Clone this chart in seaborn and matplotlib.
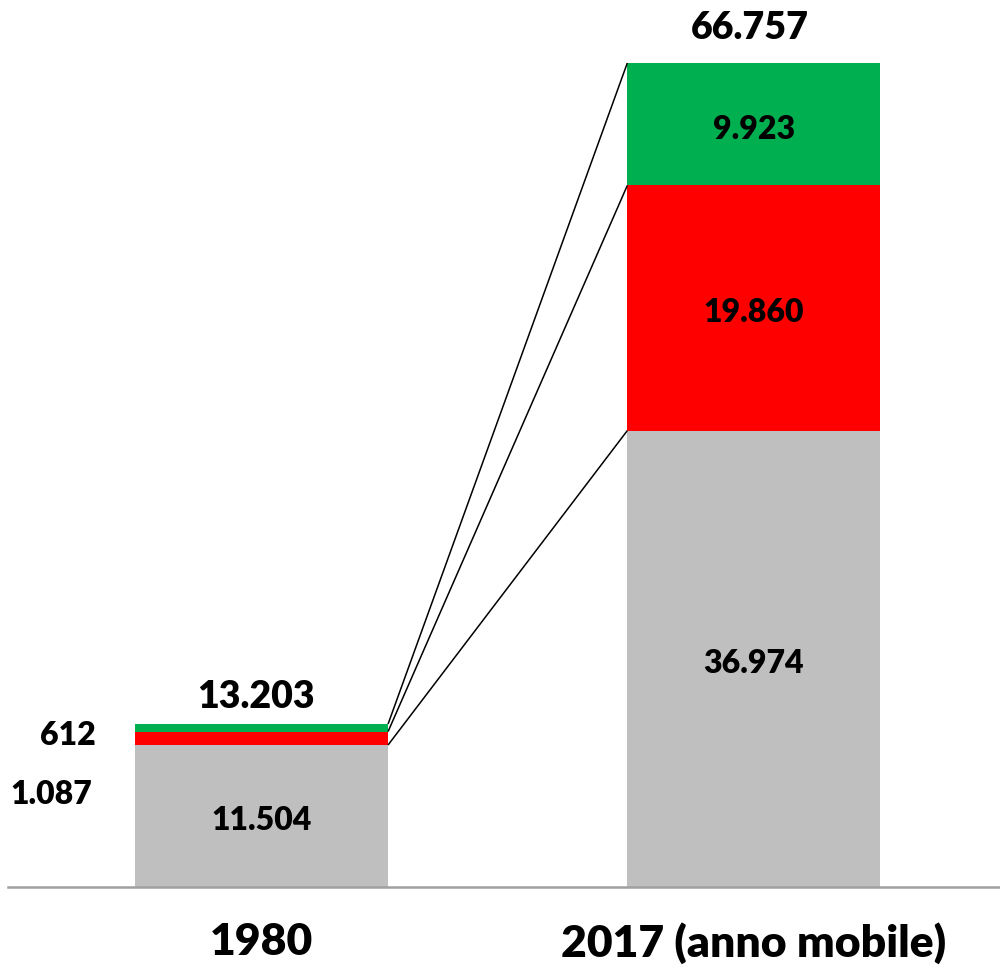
import seaborn as sns
import matplotlib.pyplot as plt

# data (values in thousands, italian format)
categories = ["1980", "2017 (anno mobile)"]
grey_vals = [11504, 36974]
red_vals = [1087, 19860]
green_vals = [612, 9923]
totals = [13203, 66757]

GREY = "#BFBFBF"
RED = "#FF0000"
GREEN = "#00B050"


def fmt(v):
    return f"{v:,}".replace(",", ".")


sns.set_style("white")
plt.rcParams["font.family"] = ["Lato", "DejaVu Sans"]
plt.rcParams["font.weight"] = "bold"
plt.rcParams["text.color"] = "black"
plt.rcParams["xtick.color"] = "black"

fig = plt.figure(figsize=(10, 9.8), dpi=100)
ax = fig.add_axes([0.008, 0.0949, 0.992, 0.8643])

bar_w = 0.514
cum_red = [g + r for g, r in zip(grey_vals, red_vals)]
cum_green = [c + gr for c, gr in zip(cum_red, green_vals)]

# stacked bars: draw the tallest first, then cover with lower stacks
sns.barplot(x=categories, y=cum_green, color=GREEN, saturation=1, width=bar_w, linewidth=0, ax=ax)
sns.barplot(x=categories, y=cum_red, color=RED, saturation=1, width=bar_w, linewidth=0, ax=ax)
sns.barplot(x=categories, y=grey_vals, color=GREY, saturation=1, width=bar_w, linewidth=0, ax=ax)

# connector lines between the segment tops
x_left = 0 + bar_w / 2
x_right = 1 - bar_w / 2
for level in (grey_vals, cum_red, cum_green):
    ax.plot([x_left, x_right], [level[0], level[1]], color="black", lw=1.1,
            solid_capstyle="butt")


def inner_label(x, y, value):
    ax.annotate(fmt(value), xy=(x, y), xytext=(0, -3.5), textcoords="offset points",
                ha="center", va="center", fontsize=23, fontweight="heavy")


# labels inside the segments
inner_label(0, grey_vals[0] / 2, grey_vals[0])
inner_label(1, grey_vals[1] / 2, grey_vals[1])
inner_label(1, grey_vals[1] + red_vals[1] / 2, red_vals[1])
inner_label(1, cum_red[1] + green_vals[1] / 2, green_vals[1])

# small 1980 segments labelled on the left
ax.annotate(fmt(green_vals[0]), xy=(-bar_w / 2, cum_red[0]), xytext=(-28, -3),
            textcoords="offset points", ha="right", va="center",
            fontsize=23, fontweight="heavy")
ax.annotate(fmt(red_vals[0]), xy=(-bar_w / 2, grey_vals[0]), xytext=(-31, -36),
            textcoords="offset points", ha="right", va="center",
            fontsize=23, fontweight="heavy")

# totals on top
ax.annotate(fmt(totals[0]), xy=(0, cum_green[0]), xytext=(-4, 7),
            textcoords="offset points", ha="center", va="bottom",
            fontsize=27, fontweight="heavy")
ax.annotate(fmt(totals[1]), xy=(1, cum_green[1]), xytext=(-3, 13),
            textcoords="offset points", ha="center", va="bottom",
            fontsize=27, fontweight="heavy", annotation_clip=False)

ax.set_xlim(-0.515, 1.5)
ax.set_ylim(0, 68620)
ax.set_yticks([])
ax.set_xlabel("")
ax.set_ylabel("")
ax.tick_params(axis="x", length=0, pad=25, labelsize=32)
for lbl in ax.get_xticklabels():
    lbl.set_fontweight("heavy")

for side in ("top", "right", "left"):
    ax.spines[side].set_visible(False)
ax.spines["bottom"].set_color("#A0A0A0")
ax.spines["bottom"].set_linewidth(1.8)

fig.savefig("out.png", dpi=100)
